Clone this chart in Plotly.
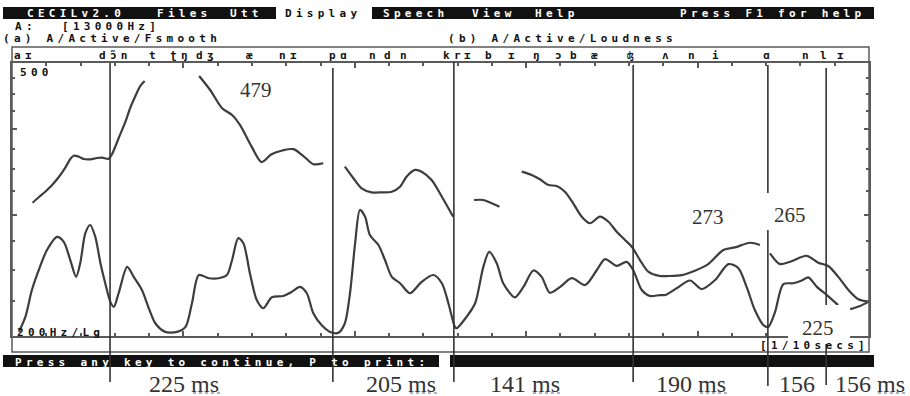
import math
import plotly.graph_objects as go

# ---------------- data ----------------
# (a) A/Active/Fsmooth : smoothed F0 contour, seconds / Hz (None = voiceless gap)
f0_time = [0.060, 0.078, 0.097, 0.117, 0.136, 0.156, 0.170, 0.180, 0.195, 0.209, 0.228, 0.248, 0.263, 0.282,
           0.292, 0.311, 0.331, 0.345, 0.360, 0.374, 0.387,
           None,
           0.546, 0.578, 0.613, 0.642, 0.665, 0.699, 0.728, 0.756, 0.789, 0.821, 0.850, 0.879, 0.908,
           None,
           0.971, 0.996, 1.020, 1.049, 1.079, 1.108, 1.132, 1.151, 1.176, 1.195, 1.224, 1.254, 1.287,
           None,
           1.348, 1.375, 1.399, 1.422,
           None,
           1.487, 1.516, 1.540, 1.565, 1.589, 1.613, 1.637, 1.662, 1.686, 1.715, 1.740, 1.764, 1.788,
           1.808, 1.832, 1.856, 1.890, 1.915, 1.954, 1.992, 2.031, 2.075, 2.109, 2.153, 2.182,
           None,
           2.211, 2.240, 2.270, 2.318, 2.352, 2.381, 2.410, 2.440, 2.469, 2.498]
f0_hz = [312.8, 318.6, 324.6, 332.0, 340.7, 352.3, 362.3, 366.3, 365.1, 362.3, 361.9, 363.5, 363.9, 362.6,
         368.4, 388.4, 410.6, 430.3, 447.6, 462.8, 470.7,
         None,
         478.6, 456.7, 429.5, 419.9, 406.1, 377.6, 358.6, 367.8, 372.8, 374.4, 365.9, 356.0, 357.1,
         None,
         353.1, 339.6, 328.3, 323.9, 323.9, 324.6, 330.1, 341.4, 349.2, 347.2, 337.6, 319.2, 298.5,
         None,
         315.7, 315.7, 312.2, 308.7,
         None,
         347.2, 343.4, 338.4, 332.0, 330.9, 324.6, 312.2, 298.5, 292.0, 298.5, 293.5, 283.8, 276.1,
         269.9, 258.1, 248.2, 244.6, 244.6, 245.4, 249.0, 254.6, 266.9, 269.3, 273.5, 271.4,
         None,
         264.0, 254.6, 256.6, 261.8, 255.8, 253.0, 244.1, 233.4, 226.2, 224.4]

# (b) A/Active/Loudness : seconds / dB (relative)
loud_time = [0.020, 0.039, 0.058, 0.078, 0.102, 0.131, 0.151, 0.170, 0.187, 0.199,
             0.214, 0.228, 0.243, 0.258, 0.272, 0.287, 0.297, 0.311, 0.336, 0.355,
             0.379, 0.399, 0.418, 0.447, 0.481, 0.506, 0.525, 0.545, 0.574, 0.603,
             0.627, 0.642, 0.660, 0.675, 0.694, 0.714, 0.733, 0.758, 0.791, 0.816,
             0.840, 0.860, 0.879, 0.903, 0.928, 0.952, 0.971, 0.986, 1.001, 1.015,
             1.030, 1.044, 1.069, 1.088, 1.108, 1.132, 1.161, 1.195, 1.229, 1.254,
             1.273, 1.292, 1.297, 1.326, 1.351, 1.375, 1.392, 1.414, 1.433, 1.467,
             1.492, 1.521, 1.545, 1.569, 1.599, 1.633, 1.672, 1.706, 1.730, 1.764,
             1.793, 1.812, 1.837, 1.861, 1.890, 1.905, 1.939, 1.978, 2.012, 2.051,
             2.090, 2.119, 2.143, 2.167, 2.192, 2.206, 2.226, 2.250, 2.279, 2.304,
             2.323, 2.348, 2.377, 2.410, None, 2.445, 2.474, 2.498]
loud_db = [0.9, 4.2, 10.1, 14.5, 18.9, 21.8, 20.7, 16.7, 13.0, 16.0,
           22.6, 24.4, 21.8, 16.0, 11.6, 7.5, 6.4, 9.4, 15.2, 13.0,
           10.1, 6.1, 2.8, 0.9, 0.9, 2.0, 7.2, 13.4, 12.7, 12.7,
           13.4, 16.7, 21.5, 20.4, 13.8, 7.9, 6.1, 8.5, 8.8, 9.7,
           10.8, 9.4, 5.0, 2.4, 0.9, 0.7, 2.8, 9.4, 20.4, 27.7,
           26.2, 22.2, 20.0, 16.7, 13.0, 11.6, 9.4, 11.9, 13.4, 11.6,
           7.2, 2.0, 1.7, 4.2, 7.2, 15.2, 18.5, 16.0, 11.6, 8.5,
           10.8, 14.4, 13.0, 9.5, 10.8, 12.7, 11.2, 14.5, 16.9, 15.4,
           16.3, 14.5, 10.1, 8.8, 9.0, 9.0, 10.5, 12.2, 10.3, 12.3,
           15.8, 14.9, 10.8, 5.7, 2.4, 2.0, 5.3, 11.4, 11.6, 12.2,
           12.9, 10.8, 9.0, 6.8, None, 5.9, 6.6, 7.5]

# phonetic transcription along the top, times in seconds
phone_labels = ["aɪ", "dɔ̃n", "t", "ʈŋ", "dʒ", "æ", "nɪ", "pɑ", "n", "d", "n", "kr", "ɪ", "b", "ɪ",
                "ŋ", "ɔ", "b", "æ", "ʤ", "ʌ", "n", "i", "ɑ", "n", "l", "ɪ"]
phone_times = [0.038, 0.303, 0.417, 0.494, 0.568, 0.700, 0.811, 0.957, 1.056, 1.100, 1.149, 1.288,
               1.336, 1.397, 1.464, 1.537, 1.599, 1.645, 1.704, 1.811, 1.911, 1.987, 2.059, 2.208, 2.322,
               2.372, 2.424]

# segment boundaries (s) and the durations written beneath them
boundary_times = [0.286, 0.936, 1.289, 1.812, 2.205, 2.375]
duration_labels = ["225 ms", "205 ms", "141 ms", "190 ms", "156", "156 ms"]
# F0 values written on the plot (Hz)
pitch_labels = ["479", "273", "265", "225"]

# axis definitions
t_max = 2.5
hz_min, hz_max = 200, 500
hz_major = [300, 400]
hz_minor = [225, 250, 275, 325, 350, 375, 425, 450, 475]

# ---------------- layout helpers (pixel -> paper) ----------------
W, H = 910, 396
L, R, T, B = 12, 869, 63, 336


def px(x):
    return (x - L) / (R - L)


def py(y):
    return (B - y) / (B - T)


FRAME = "#5a5a5a"
CURVE = "#3d3d3d"
INK = "#111111"
MONO = "DejaVu Sans Mono"
SERIF = "Liberation Serif"
CELL = 10.9
MONO_SIZE = 11
LS = CELL - 0.602 * MONO_SIZE
YSHIFT = 1.5


def dos(s):
    return '<span style="letter-spacing:%.2fpx">%s</span>' % (LS, s)


fig = go.Figure()
fig.add_trace(go.Scatter(x=f0_time, y=f0_hz, mode="lines", connectgaps=False, yaxis="y",
                         line=dict(color=CURVE, width=2.2, shape="spline", smoothing=0.8),
                         hoverinfo="skip", showlegend=False))
fig.add_trace(go.Scatter(x=loud_time, y=loud_db, mode="lines", connectgaps=False, yaxis="y2",
                         line=dict(color=CURVE, width=2.2, shape="spline", smoothing=0.8),
                         hoverinfo="skip", showlegend=False))

shapes = []
annotations = []


def rect(x0, y0, x1, y1, fill=None, line=None, lw=0, layer="above"):
    shapes.append(dict(type="rect", xref="paper", yref="paper", x0=px(x0), x1=px(x1), y0=py(y1), y1=py(y0),
                       fillcolor=fill if fill else "rgba(0,0,0,0)",
                       line=dict(color=line if line else "rgba(0,0,0,0)", width=lw), layer=layer))


def seg(x0, y0, x1, y1, color="#333333", w=1.6, dash="solid"):
    shapes.append(dict(type="line", xref="paper", yref="paper", x0=x0, x1=x1, y0=py(y0), y1=py(y1),
                       line=dict(color=color, width=w, dash=dash), layer="above"))


def mono_text(s, x, y, color=INK, anchor="left", xref="paper", box_h=None):
    ann = dict(text=dos(s), x=x, y=py(y + YSHIFT), xref=xref, yref="paper", xanchor=anchor,
               yanchor="middle", showarrow=False, borderpad=0, borderwidth=0,
               font=dict(family=MONO, size=MONO_SIZE, color=color, weight="bold"))
    if box_h:
        ann["height"] = box_h
    annotations.append(ann)


# menu bars
rect(3, 7, 276, 19, fill=INK)
rect(372, 7, 874, 19, fill=INK)
for s, x in [("CECILv2.0", 27), ("Files", 157), ("Utt", 230), ("Speech", 383), ("View", 472),
             ("Help", 535), ("Press F1 for help", 680)]:
    mono_text(s, px(x), 12.5, color="white")
mono_text("Display", px(285), 12.5)
mono_text("A:", px(15), 24, box_h=12)
mono_text("[13000Hz]", px(62), 24, box_h=12)
mono_text("(a) A/Active/Fsmooth", px(3), 36, box_h=12)
mono_text("(b) A/Active/Loudness", px(448), 36, box_h=12)

# panel box
rect(12, 47, 869, 352, line=FRAME, lw=1.5, layer="below")

# phonetic labels
for lab, t in zip(phone_labels, phone_times):
    mono_text(lab, t, 54, anchor="center", xref="x")

mono_text("500", px(20), 71)
mono_text("200Hz/Lg", px(17), 331)
mono_text("[1/10secs]", px(760), 344)

# status bar
rect(3, 355, 439, 367, fill=INK)
rect(450, 355, 874, 367, fill=INK)
mono_text("Press any key to continue, P to print:", px(15), 360.5, color="white")

# white patch behind the "225" label
rect(788, 305, 850, 342, fill="white")

# segment boundary lines
line_spans = [[(63, 382)], [(68, 382)], [(62, 382)], [(65, 382)], [(65, 193), (230, 386)],
              [(68, 305), (344, 385)]]
for t, spans in zip(boundary_times, line_spans):
    for y0, y1 in spans:
        seg(t / t_max, y0, t / t_max, y1)

# duration labels (with the word-processor's dotted underline under "ms")
for s, (xc, xr) in zip(duration_labels, [(184, 220), (401, 437), (525, 560), (691, 727), (797, 815),
                                         (870, 905)]):
    annotations.append(dict(text=s, x=px(xc), y=py(384), xref="paper", yref="paper", xanchor="center",
                            yanchor="middle", showarrow=False, borderpad=0,
                            font=dict(family=SERIF, size=24, color="#333333")))
    if s.endswith("ms"):
        seg(px(xr - 27), 393, px(xr), 393, color="#8a9ab0", w=1.4, dash="dot")

# pitch value labels
for s, (xc, yc) in zip(pitch_labels, [(256, 90), (708, 217), (790, 215), (818, 328)]):
    annotations.append(dict(text=s, x=px(xc), y=py(yc), xref="paper", yref="paper", xanchor="center",
                            yanchor="middle", showarrow=False, borderpad=0,
                            font=dict(family=SERIF, size=21, color="#333333")))

axis_common = dict(showline=True, linecolor=FRAME, linewidth=1.5, mirror="ticks", ticks="inside",
                   tickcolor=FRAME, tickwidth=1.5, showticklabels=False, showgrid=False, zeroline=False,
                   fixedrange=True)

fig.update_layout(
    width=W, height=H, margin=dict(l=L, r=W - R, t=T, b=H - B, pad=0),
    paper_bgcolor="white", plot_bgcolor="white", showlegend=False,
    xaxis=dict(range=[0, t_max], tick0=0, dtick=0.5, ticklen=5,
               minor=dict(dtick=0.1, ticklen=3, tickwidth=1.5, tickcolor=FRAME, ticks="inside", showgrid=False),
               **axis_common),
    yaxis=dict(type="log", range=[math.log10(hz_min), math.log10(hz_max)], tickmode="array",
               tickvals=hz_major, ticklen=5,
               minor=dict(tickmode="array", tickvals=hz_minor, ticklen=3, tickwidth=1.5, tickcolor=FRAME,
                          ticks="inside", showgrid=False),
               **axis_common),
    yaxis2=dict(overlaying="y", range=[0, 60], visible=False, fixedrange=True),
    shapes=shapes, annotations=annotations,
)

fig.write_html("out.html")
